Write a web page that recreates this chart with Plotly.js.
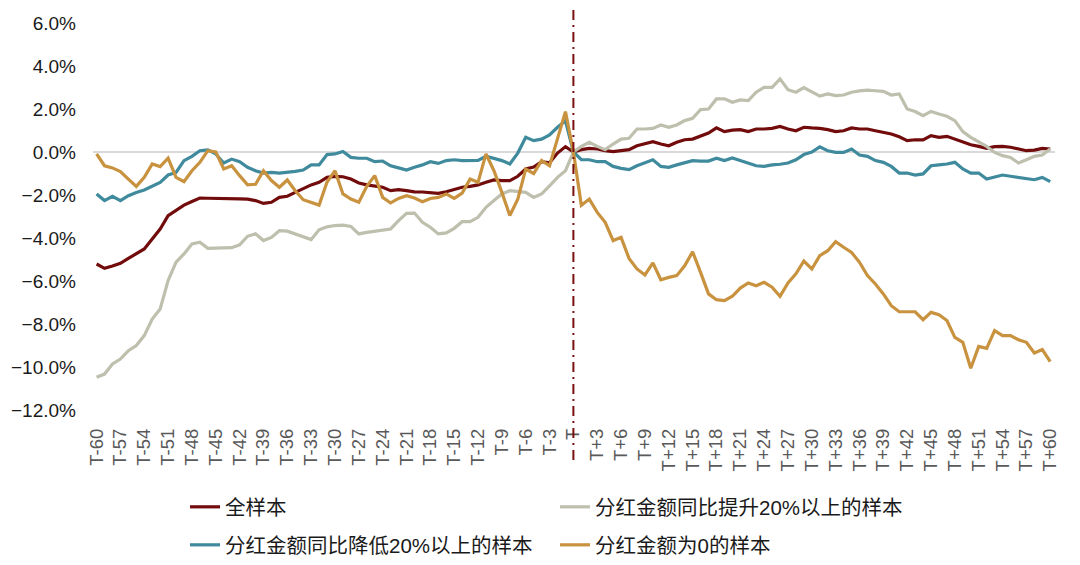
<!DOCTYPE html>
<html>
<head>
<meta charset="utf-8">
<script src="https://cdn.plot.ly/plotly-3.0.1.min.js"></script>
<style>
html,body{margin:0;padding:0;background:#fff;}
#chart{width:1080px;height:565px;}
</style>
</head>
<body>
<div id="chart"></div>
<script>
var categories = ["T-60","T-59","T-58","T-57","T-56","T-55","T-54","T-53","T-52","T-51",
"T-50","T-49","T-48","T-47","T-46","T-45","T-44","T-43","T-42","T-41",
"T-40","T-39","T-38","T-37","T-36","T-35","T-34","T-33","T-32","T-31",
"T-30","T-29","T-28","T-27","T-26","T-25","T-24","T-23","T-22","T-21",
"T-20","T-19","T-18","T-17","T-16","T-15","T-14","T-13","T-12","T-11",
"T-10","T-9","T-8","T-7","T-6","T-5","T-4","T-3","T-2","T-1",
"T",
"T+1","T+2","T+3","T+4","T+5","T+6","T+7","T+8","T+9","T+10",
"T+11","T+12","T+13","T+14","T+15","T+16","T+17","T+18","T+19","T+20",
"T+21","T+22","T+23","T+24","T+25","T+26","T+27","T+28","T+29","T+30",
"T+31","T+32","T+33","T+34","T+35","T+36","T+37","T+38","T+39","T+40",
"T+41","T+42","T+43","T+44","T+45","T+46","T+47","T+48","T+49","T+50",
"T+51","T+52","T+53","T+54","T+55","T+56","T+57","T+58","T+59","T+60"];

var tickLabels = ["T-60","T-57","T-54","T-51","T-48","T-45","T-42","T-39","T-36","T-33",
"T-30","T-27","T-24","T-21","T-18","T-15","T-12","T-9","T-6","T-3","T",
"T+3","T+6","T+9","T+12","T+15","T+18","T+21","T+24","T+27","T+30",
"T+33","T+36","T+39","T+42","T+45","T+48","T+51","T+54","T+57","T+60"];

var seriesNames = ["全样本","分红金额同比提升20%以上的样本","分红金额同比降低20%以上的样本","分红金额为0的样本"];

var allSample = [
-5.21,-5.41,-5.30,-5.18,-4.95,-4.71,-4.51,-4.05,-3.58,-2.96,
-2.70,-2.47,-2.30,-2.14,-2.15,-2.15,-2.17,-2.17,-2.18,-2.19,
-2.26,-2.39,-2.34,-2.11,-2.06,-1.88,-1.69,-1.53,-1.41,-1.18,
-1.13,-1.15,-1.26,-1.44,-1.53,-1.60,-1.64,-1.80,-1.75,-1.80,
-1.85,-1.86,-1.88,-1.92,-1.85,-1.75,-1.64,-1.60,-1.53,-1.41,
-1.30,-1.33,-1.33,-1.13,-0.79,-0.70,-0.45,-0.50,-0.05,0.25,
0,
0.11,0.17,0.14,0.06,0.02,0.08,0.11,0.29,0.37,0.48,
0.37,0.29,0.45,0.57,0.60,0.76,0.88,1.12,0.95,1.02,
1.04,0.95,1.07,1.07,1.10,1.19,1.07,0.99,1.15,1.12,
1.10,1.04,0.95,0.99,1.12,1.07,1.07,0.99,0.91,0.84,
0.71,0.53,0.57,0.56,0.76,0.68,0.73,0.60,0.45,0.34,
0.26,0.17,0.25,0.26,0.22,0.14,0.06,0.09,0.17,0.14];

var raise20 = [
-10.48,-10.33,-9.86,-9.63,-9.24,-9.00,-8.54,-7.77,-7.30,-5.98,
-5.12,-4.74,-4.28,-4.20,-4.48,-4.47,-4.47,-4.45,-4.32,-3.92,
-3.80,-4.12,-3.97,-3.66,-3.68,-3.80,-3.92,-4.07,-3.62,-3.48,
-3.42,-3.40,-3.46,-3.81,-3.74,-3.69,-3.63,-3.58,-3.19,-2.85,
-2.84,-3.27,-3.50,-3.81,-3.76,-3.55,-3.24,-3.24,-3.04,-2.57,
-2.26,-1.95,-1.80,-1.85,-1.88,-2.11,-1.95,-1.57,-1.18,-0.87,
0,
0.26,0.45,0.26,0.11,0.37,0.60,0.64,1.07,1.07,1.10,
1.26,1.15,1.26,1.46,1.57,1.97,2.00,2.47,2.47,2.31,
2.42,2.39,2.78,3.01,3.01,3.40,2.90,2.78,3.00,2.80,
2.60,2.70,2.62,2.65,2.78,2.84,2.88,2.85,2.82,2.65,
2.70,2.00,1.88,1.69,1.89,1.77,1.66,1.46,0.95,0.68,
0.45,0.26,-0.02,-0.17,-0.25,-0.51,-0.36,-0.20,-0.14,0.14];

var cut20 = [
-1.95,-2.26,-2.06,-2.26,-2.03,-1.88,-1.77,-1.60,-1.41,-1.07,
-0.95,-0.40,-0.20,0.06,0.10,-0.09,-0.51,-0.33,-0.45,-0.71,
-0.87,-0.98,-0.95,-0.98,-0.95,-0.90,-0.84,-0.60,-0.60,-0.12,
-0.09,0.02,-0.25,-0.29,-0.29,-0.45,-0.42,-0.64,-0.74,-0.84,
-0.71,-0.60,-0.45,-0.53,-0.40,-0.36,-0.40,-0.39,-0.39,-0.20,
-0.29,-0.40,-0.56,-0.05,0.68,0.53,0.60,0.79,1.15,1.45,
0,
-0.36,-0.36,-0.45,-0.45,-0.67,-0.76,-0.82,-0.64,-0.51,-0.36,
-0.67,-0.71,-0.60,-0.51,-0.40,-0.42,-0.42,-0.29,-0.40,-0.28,
-0.39,-0.51,-0.64,-0.67,-0.60,-0.57,-0.51,-0.36,-0.12,0.00,
0.24,0.06,-0.02,-0.02,0.14,-0.14,-0.20,-0.40,-0.48,-0.67,
-0.98,-0.98,-1.07,-1.02,-0.64,-0.60,-0.56,-0.48,-0.79,-0.98,
-0.98,-1.26,-1.15,-1.07,-1.13,-1.18,-1.22,-1.29,-1.18,-1.38];

var zeroDiv = [
-0.09,-0.64,-0.74,-0.91,-1.26,-1.60,-1.18,-0.56,-0.68,-0.29,
-1.18,-1.38,-0.87,-0.48,0.06,0.00,-0.79,-0.64,-1.10,-1.53,
-1.50,-0.87,-1.33,-1.64,-1.30,-1.80,-2.22,-2.34,-2.47,-1.40,
-0.87,-1.95,-2.19,-2.34,-1.60,-1.10,-2.11,-2.37,-2.16,-2.03,
-2.14,-2.31,-2.16,-2.11,-1.95,-2.16,-1.91,-1.26,-1.41,-0.09,
-0.87,-1.88,-2.95,-2.20,-0.80,-1.00,-0.40,-0.64,0.60,1.88,
0,
-2.48,-2.19,-2.81,-3.27,-4.12,-3.97,-4.95,-5.44,-5.72,-5.16,
-5.94,-5.83,-5.75,-5.29,-4.64,-5.60,-6.60,-6.87,-6.91,-6.71,
-6.33,-6.09,-6.22,-6.06,-6.29,-6.71,-6.09,-5.67,-5.07,-5.44,
-4.82,-4.59,-4.17,-4.43,-4.67,-5.13,-5.75,-6.14,-6.60,-7.15,
-7.43,-7.43,-7.43,-7.80,-7.46,-7.57,-7.84,-8.62,-8.85,-10.06,
-9.04,-9.13,-8.31,-8.54,-8.54,-8.73,-8.85,-9.35,-9.19,-9.75];

var colors = ["#720b0b","#bfbfae","#3f8a9c","#c8923f"];
var seriesData = [allSample, raise20, cut20, zeroDiv];
var legendIds = ["legend","legend","legend2","legend2"];

var traces = seriesData.map(function(vals, i){
  return {
    type: "scatter", mode: "lines",
    x: categories, y: vals,
    name: seriesNames[i],
    legend: legendIds[i],
    line: {color: colors[i], width: 3.2},
    hoverinfo: "skip"
  };
});

var FONT = "Liberation Sans, Arial, Noto Sans CJK SC, sans-serif";
var legendFont = {family: "Liberation Sans, Noto Sans CJK SC, sans-serif", size: 20.5, color: "#1a1a1a"};

var layout = {
  width: 1080, height: 565,
  margin: {l: 93, r: 25, t: 23, b: 155, autoexpand: false},
  paper_bgcolor: "#ffffff", plot_bgcolor: "#ffffff",
  font: {family: FONT},
  showlegend: true,
  xaxis: {
    type: "category", automargin: false,
    categoryorder: "array", categoryarray: categories,
    range: [-0.45, 120.6],
    tickmode: "array", tickvals: tickLabels, ticktext: tickLabels,
    tickangle: -90,
    tickfont: {family: FONT, size: 18.5, color: "#595959"},
    ticks: "", showgrid: false, zeroline: false, showline: false,
    ticklabelstandoff: 14,
    fixedrange: true
  },
  yaxis: {
    automargin: false,
    range: [-12, 6],
    tickmode: "linear", tick0: -12, dtick: 2,
    tickformat: ".1f", ticksuffix: "%",
    tickfont: {family: FONT, size: 19, color: "#1a1a1a"},
    ticks: "", showgrid: false, showline: false,
    zeroline: true, zerolinecolor: "#d9d9d9", zerolinewidth: 2,
    ticklabelstandoff: 16,
    fixedrange: true
  },
  legend: {
    orientation: "h", x: (185-93)/962, xanchor: "left",
    y: -(507-410)/387, yanchor: "middle",
    entrywidth: 325, entrywidthmode: "pixels",
    font: legendFont, bgcolor: "rgba(0,0,0,0)", traceorder: "normal"
  },
  legend2: {
    orientation: "h", x: (185-93)/962, xanchor: "left",
    y: -(545-410)/387, yanchor: "middle",
    entrywidth: 325, entrywidthmode: "pixels",
    font: legendFont, bgcolor: "rgba(0,0,0,0)", traceorder: "normal"
  },
  shapes: [{
    type: "line", xref: "x", yref: "paper",
    x0: "T", x1: "T",
    y0: -(460-410)/387, y1: 1 + 13/387,
    line: {color: "#7b1010", width: 2, dash: "10px,5px,2px,5px"},
    layer: "above"
  }]
};

Plotly.newPlot("chart", traces, layout, {displayModeBar: false, staticPlot: true});
</script>
</body>
</html>
